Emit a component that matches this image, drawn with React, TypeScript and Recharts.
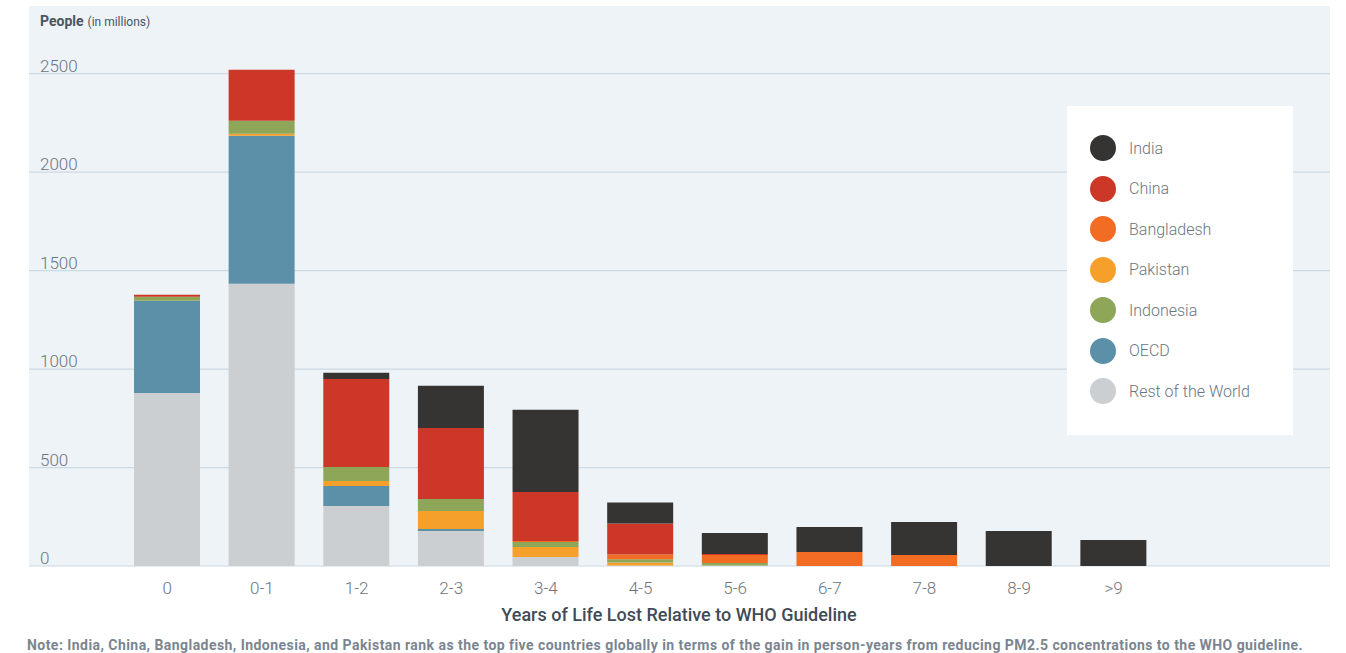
import React from 'react';
import { BarChart, Bar, XAxis, YAxis, CartesianGrid, Legend } from 'recharts';

const categories = ['0', '0-1', '1-2', '2-3', '3-4', '4-5', '5-6', '6-7', '7-8', '8-9', '>9'];

// people in millions, per bin of years lost
const restOfWorld = [879, 1433, 305, 178, 46, 3, 3, 0, 0, 0, 0];
const oecd = [468, 752, 101, 10, 0, 0, 0, 0, 0, 0, 0];
const pakistan = [0, 10, 26, 91, 51, 15, 0, 0, 0, 0, 0];
const indonesia = [20, 66, 71, 61, 25, 16, 12, 0, 0, 0, 0];
const bangladesh = [0, 0, 0, 0, 5, 25, 41, 71, 56, 0, 0];
const china = [10, 259, 447, 361, 249, 157, 5, 0, 0, 0, 0];
const india = [0, 0, 31, 214, 417, 107, 107, 127, 168, 178, 132];

const yTicks = [0, 500, 1000, 1500, 2000, 2500];
const legendOrder = ['india', 'china', 'bangladesh', 'pakistan', 'indonesia', 'oecd', 'rest'];

// bottom of the stack first
const SERIES = [
  { key: 'rest', name: 'Rest of the World', color: '#cbcfd2', values: restOfWorld },
  { key: 'oecd', name: 'OECD', color: '#5c90a8', values: oecd },
  { key: 'pakistan', name: 'Pakistan', color: '#f4a02a', values: pakistan },
  { key: 'indonesia', name: 'Indonesia', color: '#8ea657', values: indonesia },
  { key: 'bangladesh', name: 'Bangladesh', color: '#f26c23', values: bangladesh },
  { key: 'china', name: 'China', color: '#cd3727', values: china },
  { key: 'india', name: 'India', color: '#363432', values: india },
];

const data = categories.map((c, i) => {
  const row: any = { bin: c };
  SERIES.forEach((s) => (row[s.key] = s.values[i]));
  return row;
});

const FONT = 'Roboto, "Liberation Sans", sans-serif';

const YTick = ({ y, payload }: any) => (
  <text x={40} y={y - 2} fill="#6b7580" fontSize={17} fontWeight={300} fontFamily={FONT}>
    {payload.value}
  </text>
);

const XTick = ({ x, y, payload }: any) => (
  <text x={x} y={y + 20} textAnchor="middle" fill="#6b7580" fontSize={17} fontWeight={300} fontFamily={FONT}>
    {payload.value}
  </text>
);

const LegendBox = () => (
  <div style={{ width: 226, height: 329, background: '#fff', boxSizing: 'border-box', paddingTop: 22, paddingLeft: 23 }}>
    {legendOrder.map((k) => {
      const s = SERIES.find((x) => x.key === k)!;
      return (
        <div key={s.key} style={{ display: 'flex', alignItems: 'center', height: 40.5 }}>
          <span style={{ width: 26, height: 26, borderRadius: 13, background: s.color, display: 'inline-block' }} />
          <span style={{ marginLeft: 13, fontSize: 16, color: '#6b7580', fontFamily: FONT, fontWeight: 300 }}>{s.name}</span>
        </div>
      );
    })}
  </div>
);

export default function App() {
  return (
    <div style={{ position: 'absolute', left: 0, top: 0, width: 1346, height: 653, background: '#fff', fontFamily: FONT }}>
      <div style={{ position: 'absolute', left: 29, top: 6, width: 1301, height: 560, background: '#eef3f8' }} />
      <div style={{ position: 'absolute', left: 40, top: 11, color: '#4a5561', whiteSpace: 'nowrap' }}>
        <span style={{ fontSize: 14, fontWeight: 700 }}>People</span>
        <span style={{ fontSize: 12, marginLeft: 4 }}>(in millions)</span>
      </div>
      <div style={{ position: 'absolute', left: 0, top: 0 }}>
        <BarChart width={1346} height={653} data={data} margin={{ top: 54, right: 16, bottom: 0, left: 28 }}>
          <CartesianGrid vertical={false} horizontalValues={yTicks} stroke="#ccdae4" strokeWidth={1.2} />
          <XAxis
            dataKey="bin"
            height={87}
            axisLine={false}
            tickLine={false}
            interval={0}
            padding={{ left: 91, right: 169 }}
            tick={<XTick />}
          />
          <YAxis
            width={1}
            domain={[0, 2600]}
            ticks={yTicks}
            interval={0}
            axisLine={false}
            tickLine={false}
            tick={<YTick />}
          />
          <Legend
            layout="horizontal"
            verticalAlign="middle"
            align="center"
            content={<LegendBox />}
            wrapperStyle={{ left: 1067, top: 106, width: 226, height: 329 }}
          />
          {SERIES.map((s) => (
            <Bar key={s.key} dataKey={s.key} name={s.name} stackId="a" fill={s.color} barSize={66} isAnimationActive={false} />
          ))}
        </BarChart>
      </div>
      <div style={{ position: 'absolute', left: 0, width: 1358, top: 604, textAlign: 'center', fontSize: 18, fontWeight: 500, color: '#3f4b57' }}>
        Years of Life Lost Relative to WHO Guideline
      </div>
      <div style={{ position: 'absolute', left: 27, top: 637, fontSize: 14, letterSpacing: 0.45, fontWeight: 700, color: '#7a8591', whiteSpace: 'nowrap' }}>
        Note: India, China, Bangladesh, Indonesia, and Pakistan rank as the top five countries globally in terms of the gain in person-years from reducing PM2.5 concentrations to the WHO guideline.
      </div>
    </div>
  );
}
